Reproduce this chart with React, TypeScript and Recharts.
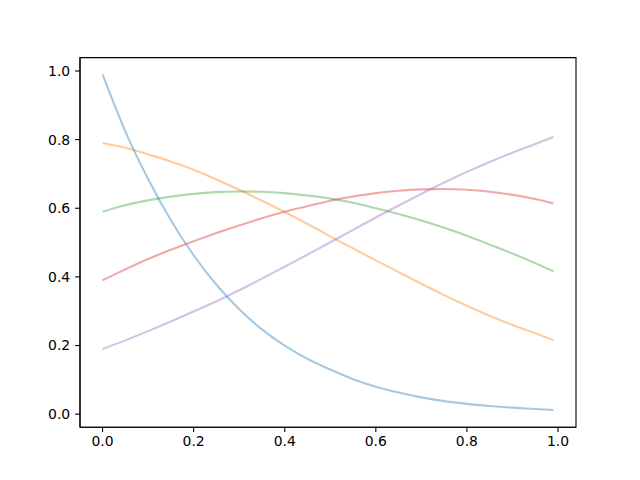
import React from 'react';
import { LineChart, Line, XAxis, YAxis, ReferenceArea } from 'recharts';

const xs = [0, 0.05, 0.1, 0.15, 0.2, 0.25, 0.3, 0.35, 0.4, 0.45, 0.5, 0.55, 0.6, 0.65, 0.7, 0.75, 0.8, 0.85, 0.9, 0.95, 0.99];
const blue = [0.99, 0.824, 0.685, 0.565, 0.463, 0.377, 0.306, 0.247, 0.2, 0.161, 0.13, 0.102, 0.08, 0.063, 0.049, 0.038, 0.03, 0.024, 0.019, 0.015, 0.012];
const orange = [0.79, 0.776, 0.757, 0.736, 0.712, 0.684, 0.654, 0.622, 0.589, 0.554, 0.518, 0.483, 0.448, 0.414, 0.38, 0.347, 0.316, 0.287, 0.26, 0.236, 0.216];
const green = [0.59, 0.609, 0.623, 0.634, 0.642, 0.647, 0.649, 0.648, 0.644, 0.637, 0.628, 0.616, 0.6, 0.583, 0.564, 0.543, 0.52, 0.494, 0.468, 0.44, 0.416];
const red = [0.39, 0.422, 0.452, 0.479, 0.504, 0.528, 0.55, 0.571, 0.59, 0.606, 0.622, 0.634, 0.644, 0.651, 0.655, 0.656, 0.654, 0.648, 0.639, 0.627, 0.614];
const purple = [0.19, 0.215, 0.242, 0.27, 0.299, 0.329, 0.361, 0.395, 0.43, 0.465, 0.501, 0.537, 0.573, 0.608, 0.642, 0.675, 0.706, 0.735, 0.762, 0.787, 0.808];

const xTicks = [0, 0.2, 0.4, 0.6, 0.8, 1.0];
const yTicks = [0, 0.2, 0.4, 0.6, 0.8, 1.0];

const series = [
  { key: 'blue', values: blue, color: '#1f77b4' },
  { key: 'orange', values: orange, color: '#ff7f0e' },
  { key: 'green', values: green, color: '#2ca02c' },
  { key: 'red', values: red, color: '#d62728' },
  { key: 'purple', values: purple, color: '#9467bd' },
];

const data = xs.map((x, i) => {
  const row: Record<string, number> = { x };
  series.forEach((s) => {
    row[s.key] = s.values[i];
  });
  return row;
});

const X_DOMAIN: [number, number] = [-0.0495, 1.0395];
const Y_DOMAIN: [number, number] = [-0.038, 1.039];

const tickStyle = { fill: '#000', fontSize: 13.9, fontFamily: 'DejaVu Sans, sans-serif' };
const fmt = (v: number) => v.toFixed(1);

export default function App() {
  return (
    <div style={{ position: 'absolute', left: 0, top: 0, width: 640, height: 480, background: '#fff', fontFamily: 'DejaVu Sans, sans-serif' }}>
      <LineChart
        width={640}
        height={480}
        data={data}
        margin={{ top: 57.6, right: 64, bottom: 0, left: 0 }}
        style={{ fontFamily: 'DejaVu Sans, sans-serif', fontSize: 13.9 }}
      >
        <XAxis
          dataKey="x"
          type="number"
          domain={X_DOMAIN}
          allowDataOverflow
          ticks={xTicks}
          tickFormatter={fmt}
          tick={tickStyle}
          fontSize={13.9}
          height={52.8}
          tickSize={4.9}
          tickMargin={4}
          axisLine={{ stroke: '#000', strokeWidth: 1.1 }}
          tickLine={{ stroke: '#000', strokeWidth: 1.1 }}
        />
        <YAxis
          type="number"
          domain={Y_DOMAIN}
          allowDataOverflow
          ticks={yTicks}
          tickFormatter={fmt}
          tick={tickStyle}
          fontSize={13.9}
          width={80}
          tickSize={4.9}
          tickMargin={4.9}
          axisLine={{ stroke: '#000', strokeWidth: 1.1 }}
          tickLine={{ stroke: '#000', strokeWidth: 1.1 }}
        />
        <ReferenceArea
          x1={X_DOMAIN[0]}
          x2={X_DOMAIN[1]}
          y1={Y_DOMAIN[0]}
          y2={Y_DOMAIN[1]}
          fill="none"
          fillOpacity={0}
          stroke="#000"
          strokeWidth={1.1}
          ifOverflow="visible"
        />
        {series.map((s) => (
          <Line
            key={s.key}
            dataKey={s.key}
            type="monotone"
            stroke={s.color}
            strokeOpacity={0.4}
            strokeWidth={2.1}
            dot={false}
            activeDot={false}
            isAnimationActive={false}
          />
        ))}
      </LineChart>
    </div>
  );
}
